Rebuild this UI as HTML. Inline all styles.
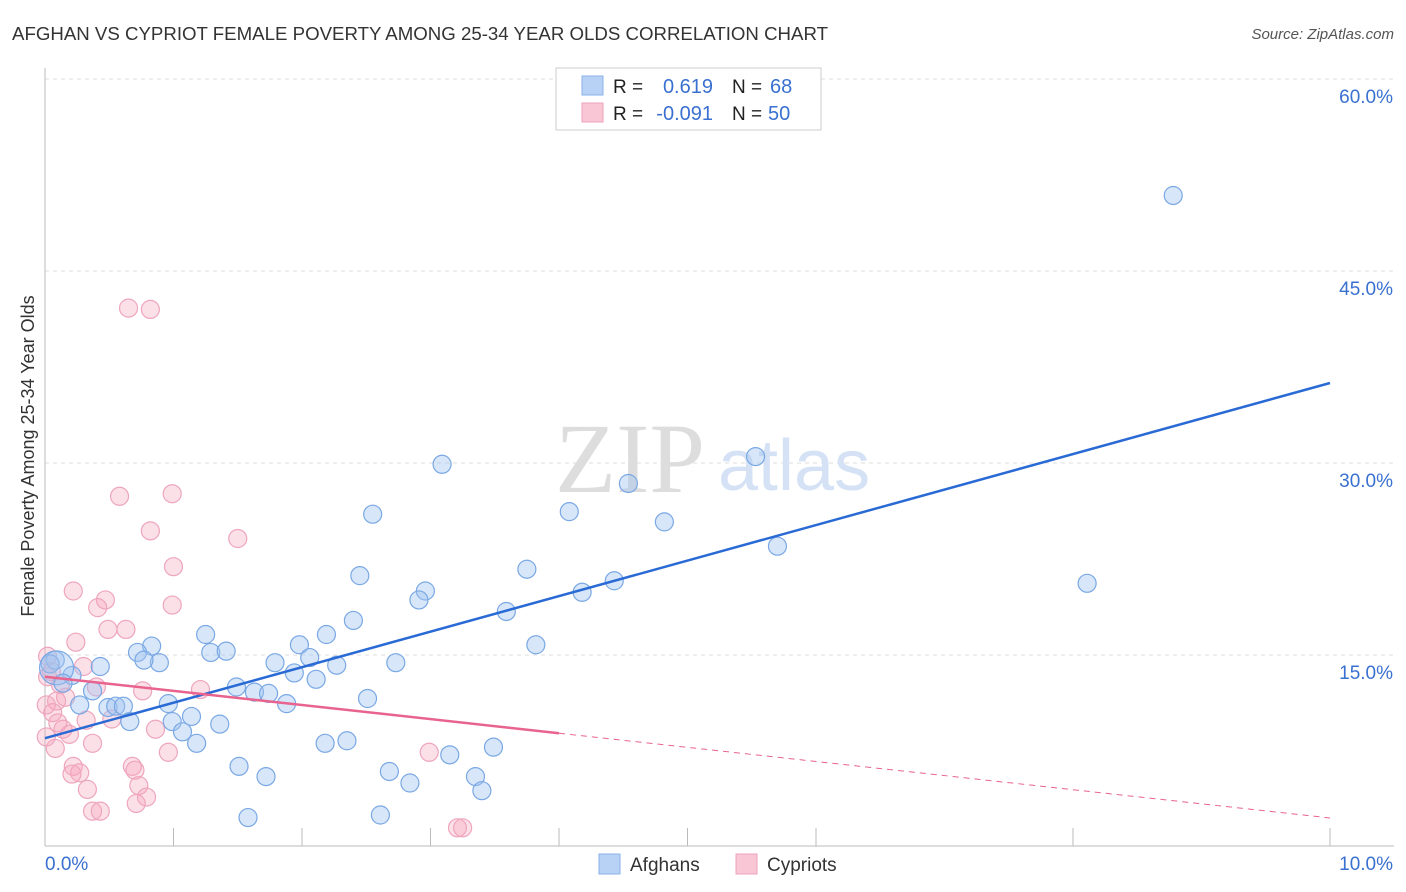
<!DOCTYPE html>
<html><head><meta charset="utf-8"><style>
body{margin:0;background:#fff;font-family:"Liberation Sans",sans-serif;}
svg{display:block}
</style></head><body>
<svg id="chart" width="1406" height="892">
<text x="12" y="40" font-size="18" fill="#333" textLength="816" lengthAdjust="spacingAndGlyphs">AFGHAN VS CYPRIOT FEMALE POVERTY AMONG 25-34 YEAR OLDS CORRELATION CHART</text>
<text x="1394" y="39" font-size="15" fill="#555" font-style="italic" text-anchor="end">Source: ZipAtlas.com</text>
<text x="0" y="0" transform="translate(34,456) rotate(-90)" font-size="18" fill="#333" text-anchor="middle">Female Poverty Among 25-34 Year Olds</text>
<g id="grid"></g>
<text x="555" y="492" font-size="100" fill="#ddd" font-family="Liberation Serif">ZIP</text>
<text x="718" y="490" font-size="72" fill="#d5e2f5">atlas</text>
<g id="pts"></g>
<g id="lines"></g>
<g>
<rect x="556" y="68" width="265" height="62" fill="#fff" stroke="#ccc"/>
<rect x="582" y="76" width="21" height="19" fill="#b8d2f5" stroke="#8ab2e8"/>
<rect x="582" y="103" width="21" height="19" fill="#f9c6d5" stroke="#eda3bb"/>
<text x="613" y="93" font-size="19" fill="#222">R = </text><text x="713" y="93" font-size="20" fill="#3a70d0" text-anchor="end">0.619</text>
<text x="732" y="93" font-size="19" fill="#222">N = </text><text x="770" y="93" font-size="20" fill="#3a70d0">68</text>
<text x="613" y="120" font-size="19" fill="#222">R = </text><text x="713" y="120" font-size="20" fill="#3a70d0" text-anchor="end">-0.091</text>
<text x="732" y="120" font-size="19" fill="#222">N = </text><text x="768" y="120" font-size="20" fill="#3a70d0">50</text>
</g>
<g>
<rect x="599" y="854" width="21" height="20" fill="#b8d2f5" stroke="#8ab2e8"/>
<text x="630" y="871" font-size="19" fill="#333">Afghans</text>
<rect x="736" y="854" width="21" height="20" fill="#f9c6d5" stroke="#eda3bb"/>
<text x="767" y="871" font-size="19" fill="#333">Cypriots</text>
</g>
</svg>
<script>
const yTicks=[15,30,45,60];
const yTickLabels=["15.0%","30.0%","45.0%","60.0%"];
const xTickVals=[1,2,3,4,5,6,8,10];
const xEndLabels=["0.0%","10.0%"];
const afghansX=[8.78,5.53,3.09,4.54,2.55,4.08,4.82,5.70,3.75,2.45,8.11,4.43,2.96,4.18,2.91,3.59,2.40,1.25,2.19,1.98,3.82,0.83,0.72,1.29,1.41,0.89,0.77,0.08,0.04,1.79,2.06,2.73,0.43,2.27,1.94,2.11,0.21,1.49,0.37,1.63,1.74,1.88,2.51,0.96,0.27,0.49,0.55,0.61,1.14,0.99,0.66,1.36,1.07,1.18,2.18,2.35,3.49,3.15,1.51,2.68,1.72,3.35,2.84,3.40,1.58,2.61,0.09,0.14];
const afghansY=[50.9,30.5,29.9,28.4,26.0,26.2,25.4,23.5,21.7,21.2,20.6,20.8,20.0,19.9,19.3,18.4,17.7,16.6,16.6,15.8,15.8,15.7,15.2,15.2,15.3,14.4,14.6,14.6,14.3,14.4,14.8,14.4,14.1,14.2,13.6,13.1,13.4,12.5,12.2,12.1,12.0,11.2,11.6,11.2,11.1,10.9,11.0,11.0,10.2,9.8,9.8,9.6,9.0,8.1,8.1,8.3,7.8,7.2,6.3,5.9,5.5,5.5,5.0,4.4,2.3,2.5,14.0,12.8];
const cypriotsX=[0.65,0.82,0.99,0.58,0.82,1.50,1.00,0.22,0.99,0.47,0.41,0.49,0.63,0.24,0.02,0.30,0.05,0.12,0.40,0.76,1.21,0.16,0.09,0.06,0.32,0.52,0.10,0.14,0.86,0.19,0.37,0.96,2.99,0.22,0.27,0.68,0.70,0.21,0.73,0.33,0.71,0.79,0.37,0.43,3.21,3.25,0.02,0.08,0.01,0.01];
const cypriotsY=[42.1,42.0,27.6,27.4,24.7,24.1,21.9,20.0,18.9,19.3,18.7,17.0,17.0,16.0,14.9,14.1,13.7,12.7,12.5,12.2,12.3,11.7,11.4,10.5,9.9,10.0,9.7,9.2,9.2,8.8,8.1,7.4,7.4,6.3,5.8,6.3,6.0,5.7,4.8,4.5,3.4,3.9,2.8,2.8,1.5,1.5,13.3,7.7,11.1,8.6];
const afghanTrend=[8.5,36.25];
const cypriotTrend=[13.3,2.27];
const cypriotSolidEnd=4;

const NS="http://www.w3.org/2000/svg";
const X0=45,X1=1330,Y0=847,YPX=12.8;
const sx=v=>X0+(X1-X0)*v/10;
const sy=v=>Y0-v*YPX;
function mk(t,a,p){const e=document.createElementNS(NS,t);for(const k in a)e.setAttribute(k,a[k]);p.appendChild(e);return e;}
const grid=document.getElementById('grid');
yTicks.forEach((t,i)=>{
  const l=mk('line',{x1:45,x2:1394,y1:sy(t),y2:sy(t),stroke:'#ddd','stroke-dasharray':'4,4'},grid);
  
  
  const tx=mk('text',{x:1393,y:sy(t)+24,'font-size':19,fill:'#3a70d0','text-anchor':'end'},grid);
  tx.textContent=yTickLabels[i];
  
  
});
let ax=mk('line',{x1:45,x2:45,y1:68,y2:846,stroke:'#bbb'},grid);


ax=mk('line',{x1:45,x2:1394,y1:846,y2:846,stroke:'#bbb'},grid);


xTickVals.forEach(v=>{
  const l=mk('line',{x1:sx(v),x2:sx(v),y1:828,y2:846,stroke:'#bbb'},grid);
  
  
});
[[0,'start',45],[10,'end',1393]].forEach((d,i)=>{
  const tx=mk('text',{x:d[2],y:870,'font-size':19,fill:'#3a70d0','text-anchor':d[1]},grid);
  tx.textContent=xEndLabels[i];
  
  
});
const pts=document.getElementById('pts');
cypriotsX.forEach((x,i)=>{
  const c=mk('circle',{cx:sx(x),cy:sy(cypriotsY[i]),r:9,fill:'rgba(245,165,190,0.35)',stroke:'#eea5be','stroke-width':1.2},pts);
  
  
});
afghansX.forEach((x,i)=>{
  const c=mk('circle',{cx:sx(x),cy:sy(afghansY[i]),r:i==66?17:9,fill:'rgba(160,196,240,0.42)',stroke:'#7aa8e4','stroke-width':1.2},pts);
  
  
});
const lines=document.getElementById('lines');
let l=mk('line',{x1:sx(0),y1:sy(afghanTrend[0]),x2:sx(10),y2:sy(afghanTrend[1]),stroke:'#2a6ad4','stroke-width':2.5},lines);


const cy=v=>cypriotTrend[0]+(cypriotTrend[1]-cypriotTrend[0])*v/10;
l=mk('line',{x1:sx(0),y1:sy(cy(0)),x2:sx(cypriotSolidEnd),y2:sy(cy(cypriotSolidEnd)),stroke:'#e8638e','stroke-width':2.5},lines);


l=mk('line',{x1:sx(cypriotSolidEnd),y1:sy(cy(cypriotSolidEnd)),x2:sx(10),y2:sy(cy(10)),stroke:'#e8638e','stroke-width':1,'stroke-dasharray':'6,5'},lines);


</script>
</body></html>
